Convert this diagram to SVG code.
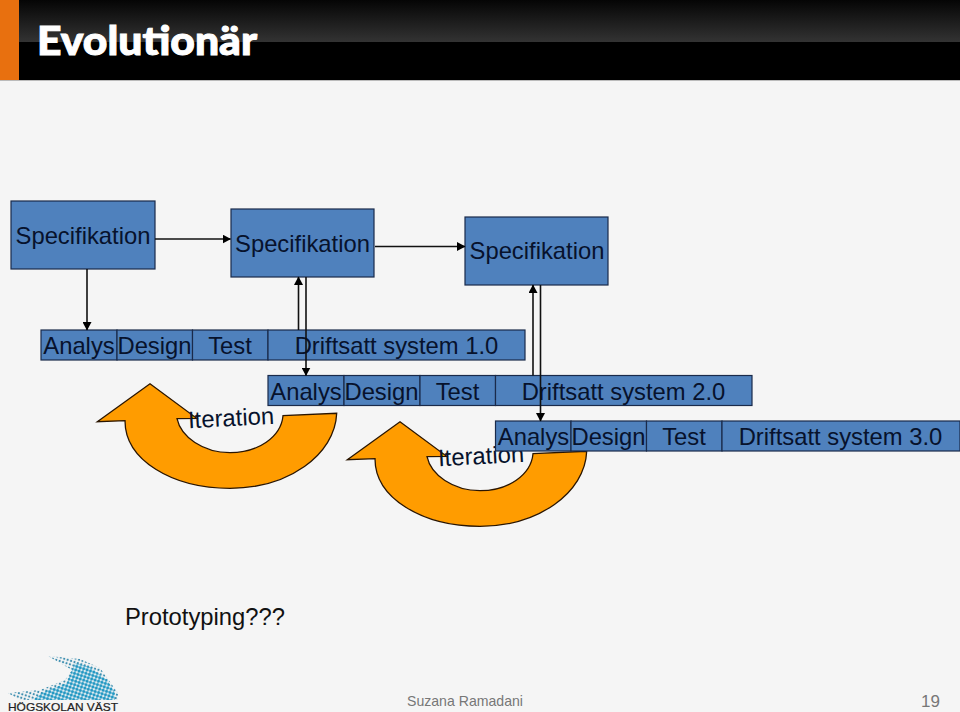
<svg xmlns="http://www.w3.org/2000/svg" width="960" height="712" viewBox="0 0 960 712">
<style>
.box{fill:#4f81bd;stroke:#1a2a4a;stroke-width:1.2}
.t{font-family:"Liberation Sans",Arial,sans-serif;font-size:23.800px;fill:#07122c;text-anchor:middle}
.c{stroke:#111;stroke-width:1.6;fill:none;marker-end:url(#ah)}
.turn{fill:#ff9c00;stroke:#2a1500;stroke-width:1.3}
</style>
<defs>
<linearGradient id="hd" x1="0" y1="0" x2="0" y2="1"><stop offset="0" stop-color="#050505"/><stop offset="1" stop-color="#333"/></linearGradient>
<marker id="ah" markerWidth="9" markerHeight="9" refX="8" refY="4.500" orient="auto" markerUnits="userSpaceOnUse"><path d="M0 0L8.500 4.500L0 9Z" fill="#000"/></marker>
<path id="turnShape" d="M97.3 421.7L150 383.7L196.7 418.3L177 418.7C181 437 203 452.7 230 452.7C258 452.7 281 437 283 415.7L336.7 413.3C335 455 288 488.3 230 488.3C172 488.3 125 460 125 420.7Z"/>
<pattern id="dots" width="3.600" height="3.600" patternUnits="userSpaceOnUse" patternTransform="rotate(18)"><circle cx="1.800" cy="1.800" r="1.600" fill="#1f98c4"/></pattern>
<pattern id="dotsL" width="3.600" height="3.600" patternUnits="userSpaceOnUse" patternTransform="rotate(18)"><circle cx="1.800" cy="1.800" r="1.100" fill="#3d8fb0"/></pattern>
</defs>
<rect width="960" height="712" fill="#f5f5f5"/>
<g id="header">
<rect width="960" height="80" fill="#000"/>
<rect x="19" width="941" height="42" fill="url(#hd)"/>
<rect width="19" height="80" fill="#e8700f"/>
<rect y="80" width="960" height="1" fill="#bbb"/>
<text x="37" y="55" font-family="Lato,'Open Sans',sans-serif" font-weight="900" font-size="40" fill="#fff" stroke="#fff" stroke-width="1" textLength="220" lengthAdjust="spacingAndGlyphs">Evolutionär</text>
</g>
<g id="spec1"><rect class="box" x="11" y="201" width="144" height="68"/><text class="t" x="83" y="244">Specifikation</text></g>
<g id="spec2"><rect class="box" x="231" y="209" width="143" height="68"/><text class="t" x="302.500" y="252">Specifikation</text></g>
<g id="spec3"><rect class="box" x="465" y="217" width="143" height="68"/><text class="t" x="537" y="259">Specifikation</text></g>
<g id="iter1"><use href="#turnShape" class="turn"/><text class="t" x="231" y="426" transform="rotate(-3 231 418)">Iteration</text></g>
<g id="iter2"><use href="#turnShape" class="turn" transform="translate(250 38)"/><text class="t" x="481" y="464" transform="rotate(-3 481 456)">Iteration</text></g>
<g id="row1">
<rect class="box" x="41" y="330" width="76" height="30"/><rect class="box" x="117" y="330" width="75.500" height="30"/><rect class="box" x="192.500" y="330" width="75.500" height="30"/><rect class="box" x="268" y="330" width="257" height="30"/>
<text class="t" x="79" y="354">Analys</text><text class="t" x="154.500" y="354">Design</text><text class="t" x="230" y="354">Test</text><text class="t" x="396.500" y="354">Driftsatt system 1.0</text>
</g>
<g id="row2">
<rect class="box" x="268" y="375.500" width="76" height="30"/><rect class="box" x="344" y="375.500" width="76" height="30"/><rect class="box" x="420" y="375.500" width="75.500" height="30"/><rect class="box" x="495.500" y="375.500" width="256.500" height="30"/>
<text class="t" x="306" y="399.500">Analys</text><text class="t" x="381.500" y="399.500">Design</text><text class="t" x="457.500" y="399.500">Test</text><text class="t" x="623.500" y="399.500">Driftsatt system 2.0</text>
</g>
<g id="row3">
<rect class="box" x="495.500" y="421" width="75.500" height="30"/><rect class="box" x="571" y="421" width="75.500" height="30"/><rect class="box" x="646.500" y="421" width="75.500" height="30"/><rect class="box" x="722" y="421" width="238" height="30"/>
<text class="t" x="533.500" y="445">Analys</text><text class="t" x="608.500" y="445">Design</text><text class="t" x="684" y="445">Test</text><text class="t" x="840.500" y="445">Driftsatt system 3.0</text>
</g>
<g id="connectors">
<path class="c" d="M155 239H230.500"/>
<path class="c" d="M375 246.500H465"/>
<path class="c" d="M87 269V330"/>
<path class="c" d="M298.500 330V277"/>
<path class="c" d="M306 277V375.500"/>
<path class="c" d="M533 375.500V285"/>
<path class="c" d="M540.500 285V421"/>
</g>
<text class="t" x="205" y="625" style="fill:#111">Prototyping???</text>
<g id="logo">
<path fill="url(#dotsL)" d="M48 656L80 659L100 668L118 693L118 700L20 700L8 693L40 690L65 680L72 670Z"/>
<path fill="url(#dots)" d="M33 700L43 692L67 683L75 663L90 667L107 680L115 693L115 700Z"/>
<text x="8" y="711" font-family="'Liberation Sans',sans-serif" font-size="10.500" fill="#222" stroke="#222" stroke-width="0.200" textLength="110" lengthAdjust="spacingAndGlyphs">HÖGSKOLAN VÄST</text>
</g>
<text x="407" y="706" font-family="'Liberation Sans',sans-serif" font-size="14.100" fill="#777">Suzana Ramadani</text>
<text x="921" y="707" font-family="'Liberation Sans',sans-serif" font-size="17" fill="#777">19</text>
</svg>
